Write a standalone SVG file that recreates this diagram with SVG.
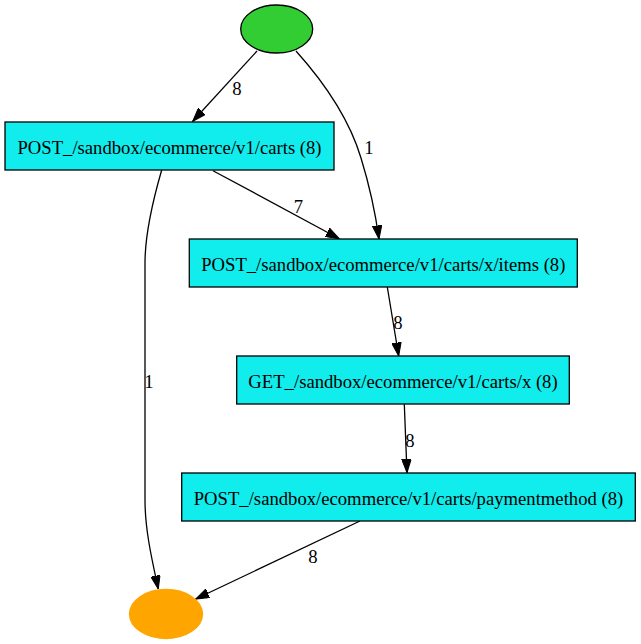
<svg xmlns="http://www.w3.org/2000/svg" width="641" height="644" viewBox="0 0 641 644">
<style>
.box{fill:#11ecec;stroke:#000;stroke-width:1.3}
.t{font-family:"Liberation Serif","Times New Roman",serif;font-size:18.67px;fill:#000;text-anchor:middle}
.e{fill:none;stroke:#000;stroke-width:1.3}
</style>
<defs>
<marker id="arr" markerUnits="userSpaceOnUse" viewBox="0 0 14 10" markerWidth="14" markerHeight="10" refX="13.5" refY="5" orient="auto">
<path d="M0,0.3 L13.5,5 L0,9.7 z" fill="#000" stroke="#000" stroke-width="1"/>
</marker>
</defs>
<rect width="641" height="644" fill="#fff"/>
<g id="connectors">
<path class="e" marker-end="url(#arr)" d="M257,51 L192.7,121.3"/>
<text class="t" x="237" y="94.5">8</text>
<path class="e" marker-end="url(#arr)" d="M296,51 C322,80 349,118 361,158 C369,184 375,210 379,239"/>
<text class="t" x="369" y="154">1</text>
<path class="e" marker-end="url(#arr)" d="M213,170.7 L339.3,238.7"/>
<text class="t" x="298.5" y="212.5">7</text>
<path class="e" marker-end="url(#arr)" d="M161.7,170 C153,200 145,235 145,263 L145,500 C145,530 152,560 158.3,589"/>
<text class="t" x="149" y="388">1</text>
<path class="e" marker-end="url(#arr)" d="M387.3,287 L398.7,356"/>
<text class="t" x="398" y="329">8</text>
<path class="e" marker-end="url(#arr)" d="M404.3,404.3 L407,472.7"/>
<text class="t" x="410" y="447">8</text>
<path class="e" marker-end="url(#arr)" d="M360,521 L195.7,599"/>
<text class="t" x="313" y="563">8</text>
</g>
<g id="start">
<ellipse cx="276.7" cy="29" rx="36" ry="24" fill="#32cd32" stroke="#000" stroke-width="1.3"/>
</g>
<g id="n1">
<rect class="box" x="5" y="122" width="329" height="48"/>
<text class="t" x="169.5" y="153.5">POST_/sandbox/ecommerce/v1/carts (8)</text>
</g>
<g id="n2">
<rect class="box" x="189.3" y="239" width="388" height="48"/>
<text class="t" x="383.3" y="270.5">POST_/sandbox/ecommerce/v1/carts/x/items (8)</text>
</g>
<g id="n3">
<rect class="box" x="236.7" y="356" width="332.6" height="48"/>
<text class="t" x="403" y="387.5">GET_/sandbox/ecommerce/v1/carts/x (8)</text>
</g>
<g id="n4">
<rect class="box" x="181.7" y="473" width="453.6" height="48"/>
<text class="t" x="408.5" y="504.5">POST_/sandbox/ecommerce/v1/carts/paymentmethod (8)</text>
</g>
<g id="end">
<ellipse cx="166" cy="614" rx="36.5" ry="24.5" fill="#ffa500" stroke="#ffa500" stroke-width="1.3"/>
</g>
</svg>
